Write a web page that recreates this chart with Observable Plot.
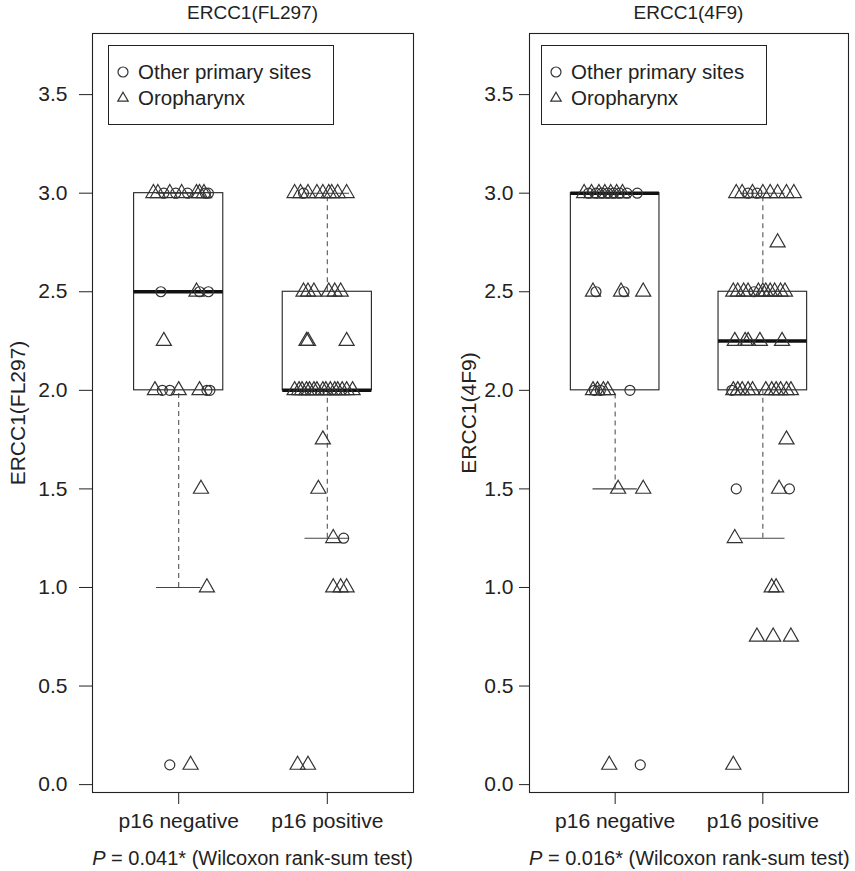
<!DOCTYPE html>
<html>
<head>
<meta charset="utf-8">
<script src="https://cdn.jsdelivr.net/npm/d3@7"></script>
<script src="https://cdn.jsdelivr.net/npm/@observablehq/plot@0.6"></script>
<style>
  body { margin: 0; background: #fff; }
  #wrap { position: relative; width: 855px; height: 871px; font-family: "Liberation Sans", Arial, sans-serif; color: #222; }
  .panel { position: absolute; top: 0; height: 871px; }
  .title { position: absolute; top: 1px; line-height: 24px; text-align: center; font-size: 19px; white-space: nowrap; }
  .caption { position: absolute; top: 846px; line-height: 24px; text-align: center; font-size: 20px; white-space: nowrap; }
  .legend { position: absolute; box-sizing: border-box; border: 1px solid #222; background: #fff; font-size: 20.5px;
            width: 226px; height: 80px; padding: 13px 0 0 5px; }
  .legend div { display: flex; align-items: center; white-space: nowrap; height: 26px; }
  .legend svg { margin-right: 6px; flex: none; }
</style>
</head>
<body>
<div id="wrap"></div>
<script>
// ---------- data ----------
const groups = ["p16 negative", "p16 positive"];
const sites = ["Other primary sites", "Oropharynx"];
const yTicks = [0, 0.5, 1, 1.5, 2, 2.5, 3, 3.5];

// box statistics: [lower whisker, Q1, median, Q3, upper whisker]
const fl297Box = [[1.0, 2.0, 2.5, 3.0, 3.0], [1.25, 2.0, 2.0, 2.5, 3.0]];
const f4f9Box  = [[1.5, 2.0, 3.0, 3.0, 3.0], [1.25, 2.0, 2.25, 2.5, 3.0]];

// points: [group index, ERCC1 score, site index (0 other, 1 oropharynx), jitter offset]
const fl297Neg = [
  [0,3.0,1,-0.17],[0,3.0,1,-0.14],[0,3.0,0,-0.10],[0,3.0,1,-0.06],[0,3.0,0,-0.02],[0,3.0,1,0.02],
  [0,3.0,0,0.06],[0,3.0,1,0.12],[0,3.0,1,0.14],[0,3.0,1,0.17],[0,3.0,0,0.18],[0,3.0,0,0.20],
  [0,2.5,0,-0.12],[0,2.5,1,0.12],[0,2.5,0,0.14],[0,2.5,0,0.20],
  [0,2.25,1,-0.10],
  [0,2.0,1,-0.16],[0,2.0,0,-0.11],[0,2.0,0,-0.06],[0,2.0,1,0.00],[0,2.0,1,0.14],[0,2.0,0,0.19],[0,2.0,0,0.21],
  [0,1.5,1,0.15],[0,1.0,1,0.19],
  [0,0.1,0,-0.06],[0,0.1,1,0.08]
];
const fl297Pos = [
  [1,3.0,1,-0.22],[1,3.0,1,-0.18],[1,3.0,0,-0.16],[1,3.0,1,-0.13],[1,3.0,1,-0.07],[1,3.0,1,-0.03],
  [1,3.0,1,0.01],[1,3.0,1,0.03],[1,3.0,1,0.07],[1,3.0,1,0.13],
  [1,2.5,1,-0.16],[1,2.5,1,-0.13],[1,2.5,1,-0.09],[1,2.5,1,0.01],[1,2.5,1,0.05],[1,2.5,1,0.09],
  [1,2.25,1,-0.14],[1,2.25,1,-0.13],[1,2.25,1,0.13],
  [1,2.0,1,-0.22],[1,2.0,1,-0.19],[1,2.0,1,-0.17],[1,2.0,1,-0.14],[1,2.0,1,-0.12],[1,2.0,1,-0.09],
  [1,2.0,1,-0.07],[1,2.0,1,-0.03],[1,2.0,1,-0.01],[1,2.0,1,0.02],[1,2.0,1,0.05],[1,2.0,1,0.07],
  [1,2.0,1,0.10],[1,2.0,1,0.13],[1,2.0,1,0.17],
  [1,1.75,1,-0.03],[1,1.5,1,-0.06],
  [1,1.25,1,0.04],[1,1.25,0,0.11],
  [1,1.0,1,0.04],[1,1.0,1,0.09],[1,1.0,1,0.13],
  [1,0.1,1,-0.20],[1,0.1,1,-0.13]
];
const f4f9Neg = [
  [0,3.0,1,-0.21],[0,3.0,0,-0.18],[0,3.0,1,-0.16],[0,3.0,0,-0.13],[0,3.0,1,-0.11],[0,3.0,0,-0.09],
  [0,3.0,1,-0.07],[0,3.0,0,-0.05],[0,3.0,1,-0.03],[0,3.0,0,-0.01],[0,3.0,1,0.01],[0,3.0,0,0.03],
  [0,3.0,1,0.05],[0,3.0,0,0.08],[0,3.0,0,0.15],
  [0,2.5,1,-0.15],[0,2.5,0,-0.13],[0,2.5,1,0.04],[0,2.5,0,0.06],[0,2.5,1,0.19],
  [0,2.0,1,-0.15],[0,2.0,0,-0.14],[0,2.0,1,-0.12],[0,2.0,0,-0.10],[0,2.0,1,-0.08],[0,2.0,1,-0.05],[0,2.0,0,0.10],
  [0,1.5,1,0.02],[0,1.5,1,0.19],
  [0,0.1,1,-0.04],[0,0.1,0,0.17]
];
const f4f9Pos = [
  [1,3.0,1,-0.18],[1,3.0,1,-0.14],[1,3.0,0,-0.10],[1,3.0,1,-0.07],[1,3.0,0,-0.04],[1,3.0,1,0.00],
  [1,3.0,1,0.05],[1,3.0,1,0.10],[1,3.0,1,0.16],[1,3.0,1,0.21],
  [1,2.75,1,0.10],
  [1,2.5,1,-0.20],[1,2.5,1,-0.17],[1,2.5,1,-0.13],[1,2.5,1,-0.10],[1,2.5,0,-0.06],[1,2.5,1,-0.03],
  [1,2.5,1,0.00],[1,2.5,1,0.02],[1,2.5,1,0.05],[1,2.5,1,0.08],[1,2.5,1,0.12],[1,2.5,1,0.15],
  [1,2.25,1,-0.19],[1,2.25,1,-0.12],[1,2.25,1,-0.10],[1,2.25,1,-0.02],[1,2.25,1,0.13],
  [1,2.0,0,-0.21],[1,2.0,1,-0.20],[1,2.0,1,-0.17],[1,2.0,1,-0.14],[1,2.0,1,-0.10],[1,2.0,1,-0.07],
  [1,2.0,1,0.02],[1,2.0,1,0.06],[1,2.0,1,0.09],[1,2.0,1,0.12],[1,2.0,1,0.16],[1,2.0,1,0.19],
  [1,1.75,1,0.16],
  [1,1.5,0,-0.18],[1,1.5,1,0.11],[1,1.5,0,0.18],
  [1,1.25,1,-0.19],
  [1,1.0,1,0.06],[1,1.0,1,0.09],
  [1,0.75,1,-0.04],[1,0.75,1,0.07],[1,0.75,1,0.19],
  [1,0.1,1,-0.20]
];

const panels = [
  {title: "ERCC1(FL297)", ylabel: "ERCC1(FL297)", p: "0.041", box: fl297Box, pts: fl297Neg.concat(fl297Pos),
   left: 0, width: 427, marginLeft: 92, marginRight: 14, legendLeft: 108,
   tickSize: 13, tickPadding: 12, labelOffset: 82},
  {title: "ERCC1(4F9)", ylabel: "ERCC1(4F9)", p: "0.016", box: f4f9Box, pts: f4f9Neg.concat(f4f9Pos),
   left: 427, width: 428, marginLeft: 102, marginRight: 7, legendLeft: 114,
   tickSize: 10, tickPadding: 6, labelOffset: 68}
];

const FONT = '"Liberation Sans", Arial, sans-serif';
const MT = 33, MB = 79, H = 871;
const wrap = document.getElementById("wrap");

function symIcon(kind) {
  const s = kind === 0
    ? '<circle cx="9" cy="9" r="5" fill="none" stroke="#333" stroke-width="1.2"/>'
    : '<path d="M9,3.2L14.2,12.2L3.8,12.2Z" fill="none" stroke="#333" stroke-width="1.2"/>';
  return `<svg width="18" height="18" viewBox="0 0 18 18">${s}</svg>`;
}

for (const pn of panels) {
  const boxes = pn.box.map((b, i) => ({pos: i + 1, lo: b[0], q1: b[1], med: b[2], q3: b[3], hi: b[4]}));
  const pts = pn.pts.map(d => ({x: d[0] + 1 + d[3], y: d[1], site: sites[d[2]]}));
  const plot = Plot.plot({
    width: pn.width, height: H,
    marginTop: MT, marginBottom: MB, marginLeft: pn.marginLeft, marginRight: pn.marginRight,
    style: {fontFamily: FONT, fontSize: "21px", color: "#222", background: "white", overflow: "visible"},
    x: {type: "linear", domain: [0.42, 2.58], axis: null},
    y: {domain: [-0.04, 3.81], axis: null},
    symbol: {domain: sites, range: ["circle", "triangle"]},
    marks: [
      Plot.axisY({ticks: yTicks, tickFormat: d3.format(".1f"), tickSize: pn.tickSize, tickPadding: pn.tickPadding, stroke: "#222",
        label: pn.ylabel, labelAnchor: "center", labelArrow: "none", labelOffset: pn.labelOffset, fontSize: 21}),
      Plot.axisX({ticks: [1, 2], tickFormat: d => groups[d - 1], tickSize: 12, tickPadding: 9, stroke: "#222",
        label: null, fontSize: 21}),
      Plot.rect(boxes, {x1: d => d.pos - 0.3, x2: d => d.pos + 0.3, y1: "q1", y2: "q3", fill: "none", stroke: "#222", strokeWidth: 1.1}),
      Plot.ruleX(boxes, {x: "pos", y1: "lo", y2: "q1", stroke: "#555", strokeDasharray: "5,4", strokeWidth: 1.1}),
      Plot.ruleX(boxes, {x: "pos", y1: "q3", y2: "hi", stroke: "#555", strokeDasharray: "5,4", strokeWidth: 1.1}),
      Plot.ruleY(boxes, {y: "lo", x1: d => d.pos - 0.15, x2: d => d.pos + 0.15, stroke: "#444", strokeWidth: 1.1}),
      Plot.ruleY(boxes, {y: "hi", x1: d => d.pos - 0.15, x2: d => d.pos + 0.15, stroke: "#444", strokeWidth: 1.1}),
      Plot.ruleY(boxes, {y: "med", x1: d => d.pos - 0.3, x2: d => d.pos + 0.3, stroke: "#111", strokeWidth: 3.5}),
      Plot.dot(pts.filter(d => d.site === sites[0]), {x: "x", y: "y", symbol: "site", r: 5, stroke: "#333", strokeWidth: 1.2, fill: "none"}),
      Plot.dot(pts.filter(d => d.site === sites[1]), {x: "x", y: "y", symbol: "site", r: 5.6, stroke: "#333", strokeWidth: 1.2, fill: "none"}),
      Plot.frame({stroke: "#222", strokeWidth: 1.1})
    ]
  });

  const div = document.createElement("div");
  div.className = "panel";
  div.style.left = pn.left + "px";
  div.style.width = pn.width + "px";
  div.appendChild(plot);

  const frameW = pn.width - pn.marginLeft - pn.marginRight;
  const t = document.createElement("div");
  t.className = "title";
  t.style.left = pn.marginLeft + "px";
  t.style.width = frameW + "px";
  t.textContent = pn.title;
  div.appendChild(t);

  const c = document.createElement("div");
  c.className = "caption";
  c.style.left = pn.marginLeft + "px";
  c.style.width = frameW + "px";
  c.innerHTML = `<i>P</i> = ${pn.p}* (Wilcoxon rank-sum test)`;
  div.appendChild(c);

  const lg = document.createElement("div");
  lg.className = "legend";
  lg.style.left = pn.legendLeft + "px";
  lg.style.top = "45px";
  lg.innerHTML = sites.map((s, i) => `<div>${symIcon(i)}<span>${s}</span></div>`).join("");
  div.appendChild(lg);

  wrap.appendChild(div);
}
</script>
</body>
</html>
